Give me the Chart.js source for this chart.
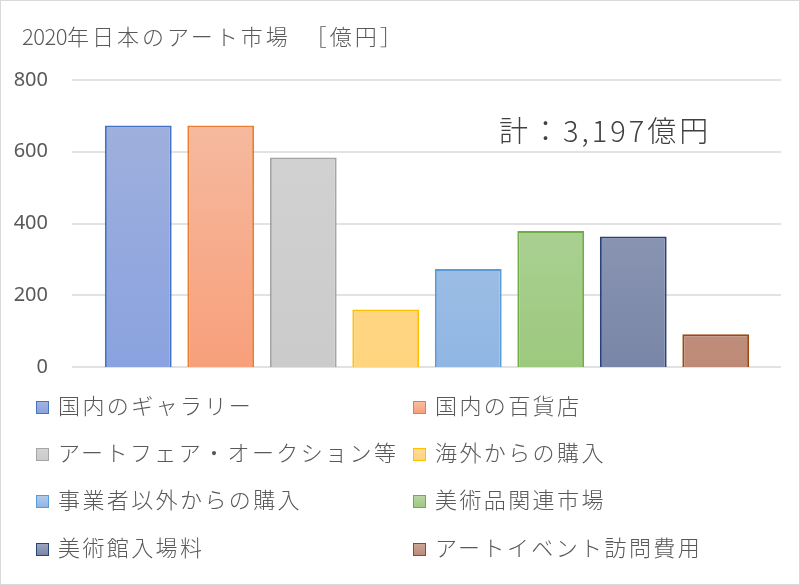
<!DOCTYPE html>
<html><head><meta charset="utf-8">
<script src="https://cdn.jsdelivr.net/npm/chart.js@4/dist/chart.umd.min.js"></script>
<style>
html,body{margin:0;padding:0;background:#fff;}
#wrap{position:relative;width:800px;height:585px;box-sizing:border-box;border:1px solid #d9d9d9;overflow:hidden;}
#c{position:absolute;left:-1px;top:-1px;}
.t{position:absolute;font-family:"Noto Sans CJK JP","Noto Sans",sans-serif;white-space:nowrap;font-weight:300;}
#title{left:21px;top:19px;font-size:22px;color:#595959;line-height:30px;letter-spacing:3px;}
#title .d{letter-spacing:-0.5px;}
#total{left:498px;top:110px;font-size:29px;color:#404040;line-height:36px;letter-spacing:3px;}
#legend .item{position:absolute;height:30px;line-height:30px;font-size:22px;color:#595959;letter-spacing:2.4px;}
#legend .box{position:absolute;left:0;top:8px;width:11px;height:11px;border:1.5px solid;}
#legend .lab{position:absolute;left:22px;top:-4px;white-space:nowrap;}
</style></head>
<body>
<div id="wrap">
<canvas id="c" width="800" height="585"></canvas>
<div class="t" id="title"><span class="d">2020</span>年日本のアート市場　［億円］</div>
<div class="t" id="total">計：3,197億円</div>
<div id="legend"></div>
</div>
<script>
const categories = ["国内のギャラリー","国内の百貨店","アートフェア・オークション等","海外からの購入","事業者以外からの購入","美術品関連市場","美術館入場料","アートイベント訪問費用"];
const values = [673, 673, 584, 160, 273, 379, 364, 91];
const yTicks = [0, 200, 400, 600, 800];
const fillTop = ["#a3b2dd","#f5bea5","#d3d3d3","#ffdb97","#b0caea","#b7d7a4","#9ba5bf","#cca698"];
const fillBottom = ["#8aa2df","#f89f7b","#cbcbcb","#ffd47e","#90b6e3","#9dc97f","#7a86a7","#bd8a77"];
const borders = ["#4472c4","#ed7d31","#a5a5a5","#ffc000","#5b9bd5","#70ad47","#264478","#9e480e"];

const gridPlugin = {
  id:'grid',
  beforeDatasetsDraw(chart){
    const ctx = chart.ctx, y = chart.scales.y;
    ctx.save();
    ctx.strokeStyle = '#d9d9d9';
    ctx.lineWidth = 1.5;
    yTicks.forEach(v=>{
      const py = Math.round(y.getPixelForValue(v));
      ctx.beginPath(); ctx.moveTo(72, py); ctx.lineTo(781, py); ctx.stroke();
    });
    ctx.restore();
  }
};

new Chart(document.getElementById('c'), {
  type:'bar',
  data:{
    labels: categories,
    datasets:[{
      data: values,
      backgroundColor: (ctx)=>{
        const ch = ctx.chart, a = ch.chartArea;
        if(!a) return fillTop[ctx.dataIndex];
        const g = ch.ctx.createLinearGradient(0, a.top, 0, a.bottom);
        g.addColorStop(0, fillTop[ctx.dataIndex]);
        g.addColorStop(1, fillBottom[ctx.dataIndex]);
        return g;
      },
      borderColor: borders,
      borderWidth: 2,
      categoryPercentage: 1,
      barPercentage: 0.81
    }]
  },
  options:{
    responsive:false,
    animation:false,
    devicePixelRatio:1,
    layout:{padding:{left:0,right:43,top:80,bottom:218}},
    plugins:{legend:{display:false},tooltip:{enabled:false}},
    scales:{
      x:{display:false},
      y:{
        min:0,max:800,
        afterFit(s){ s.width = 97; },
        afterBuildTicks(s){ s.ticks = yTicks.map(v=>({value:v})); },
        grid:{display:false,drawTicks:false},
        border:{display:false},
        ticks:{padding:49,color:'#595959',font:{family:'"Noto Sans","Noto Sans CJK JP",sans-serif',size:20}}
      }
    }
  },
  plugins:[gridPlugin]
});

const leg = document.getElementById('legend');
const colX = [35, 412], rowY = [392, 439, 486, 534];
categories.forEach((name,i)=>{
  const it = document.createElement('div');
  it.className='item t';
  it.style.left = colX[i%2]+'px';
  it.style.top = rowY[Math.floor(i/2)]+'px';
  const b = document.createElement('div');
  b.className='box';
  b.style.borderColor = borders[i];
  b.style.background = 'linear-gradient(' + fillTop[i] + ',' + fillBottom[i] + ')';
  const l = document.createElement('span');
  l.className='lab'; l.textContent = name;
  it.appendChild(b); it.appendChild(l);
  leg.appendChild(it);
});
</script>
</body></html>
